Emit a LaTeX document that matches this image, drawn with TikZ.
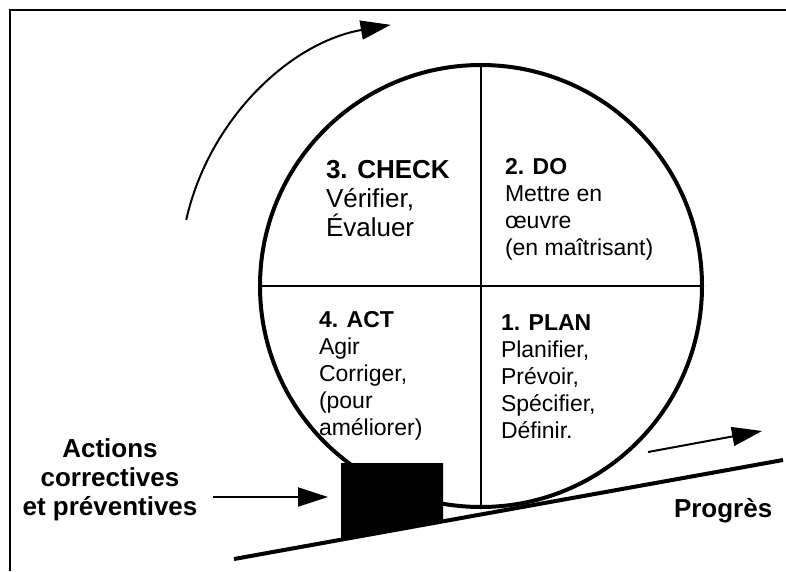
\documentclass[tikz,border=0pt]{standalone}
\usepackage{fontspec}
\setmainfont{Liberation Sans}
\usetikzlibrary{arrows.meta}
\begin{document}
\begin{tikzpicture}[x=1pt,y=-1pt,
  every node/.style={inner sep=0pt, outer sep=0pt},
  qtext/.style={anchor=base west, align=left, font=\fontsize{23}{27}\selectfont},
  bigtext/.style={font=\fontsize{26}{29}\selectfont\bfseries},
  thinarrow/.style={line width=2pt, -{Triangle[length=30pt,width=19pt]}},
  thinline/.style={line width=2pt},
  thickline/.style={line width=4pt},
]
\useasboundingbox (0,0) rectangle (786,571);
% frame
\draw[thinline] (10,571) -- (10,10) -- (786,10);
% wheel
\node[circle, draw, thickline, minimum size=442pt] (wheel) at (481,286) {};
\draw[thinline] (wheel.north) -- (wheel.south);
\draw[thinline] (wheel.west) -- (wheel.east);
% wedge block
\fill (341,463) -- (443,463) -- (443,521.3) -- (341,539.7) -- cycle;
% slope
\coordinate (slope-start) at (234,559);
\coordinate (slope-end) at (783,460);
\draw[thickline] (slope-start) -- (slope-end);
% rotation arrow
\coordinate (rot-start) at (186.2,219.9);
\draw[thinarrow] (rot-start) arc[start angle=192.7, end angle=260, radius=255];
% quadrant texts (anchor at baseline of last line)
\node[qtext, font=\fontsize{26}{29}\selectfont] (check) at (326,236) {\textbf{3. CHECK}\\Vérifier,\\Évaluer};
\node[qtext] (do) at (505,255) {\textbf{2. DO}\\Mettre en\\œuvre\\(en maîtrisant)};
\node[qtext] (act) at (319,435) {\textbf{4. ACT}\\Agir\\Corriger,\\(pour\\améliorer)};
\node[qtext] (plan) at (501,438) {\textbf{1. PLAN}\\Planifier,\\Prévoir,\\Spécifier,\\Définir.};
% left label
\node[bigtext, align=center, anchor=base] (actions) at (110,515) {Actions\\correctives\\et préventives};
\coordinate (push-start) at (213,497);
\coordinate (push-end) at (328,497);
\draw[thinarrow] (push-start) -- (push-end);
% progress
\coordinate (prog-start) at (648,452);
\coordinate (prog-end) at (762,431);
\draw[thinarrow] (prog-start) -- (prog-end);
\node[bigtext, anchor=base west] (progres) at (674,517) {Progrès};
\end{tikzpicture}
\end{document}
